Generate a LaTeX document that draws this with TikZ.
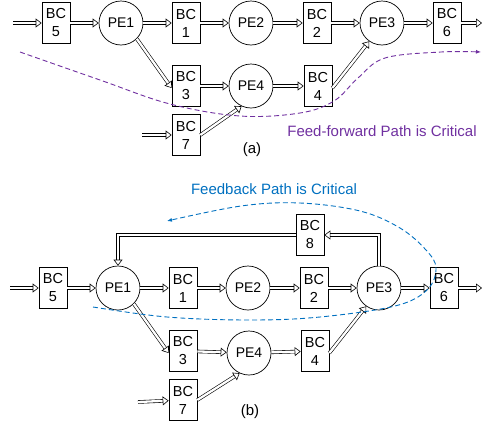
\documentclass[tikz,border=0pt]{standalone}
\usepackage{fontspec}
\setmainfont{Liberation Sans}
\usetikzlibrary{arrows.meta}
\definecolor{ffpurple}{RGB}{112,48,160}
\definecolor{fbblue}{RGB}{0,112,192}
\begin{document}
\begin{tikzpicture}[x=1pt,y=-1pt,
  bcbox/.style={draw, line width=0.7pt, minimum width=28pt, minimum height=41pt,
    inner sep=0pt, align=center, font=\fontsize{14.5}{18}\selectfont},
  pe/.style={draw, circle, line width=0.7pt, minimum size=44pt, inner sep=0pt,
    font=\fontsize{14}{16}\selectfont},
  dbl/.style={double, double distance=2.3pt, line width=0.6pt,
    -{Triangle[open, length=6pt, width=9pt, line width=0.6pt]}},
  crit/.style={dashed, dash pattern=on 5pt off 3pt, line width=0.9pt, -{Latex[length=5pt,width=4pt]}},
  lbl/.style={font=\fontsize{15}{17}\selectfont},
]
\useasboundingbox (0,0) rectangle (482,426);

% ---------------- (a) feed-forward ----------------
\node[bcbox] (a5) at (56,23) {BC\\5};
\node[pe]    (ap1) at (121,23) {PE1};
\node[bcbox] (a1) at (186,23) {BC\\1};
\node[pe]    (ap2) at (251,23) {PE2};
\node[bcbox] (a2) at (317,23) {BC\\2};
\node[pe]    (ap3) at (382,23) {PE3};
\node[bcbox] (a6) at (447,23) {BC\\6};
\node[bcbox] (a3) at (186,86) {BC\\3};
\node[pe]    (ap4) at (251,86) {PE4};
\node[bcbox] (a4) at (318,86) {BC\\4};
\node[bcbox] (a7) at (186,135) {BC\\7};
\coordinate (ain5) at (13,23);
\coordinate (aout6) at (482,23);
\coordinate (ain7) at (142,135);

\draw[dbl] (ain5) -- (a5);
\draw[dbl] (a5) -- (ap1);
\draw[dbl] (ap1) -- (a1);
\draw[dbl] (a1) -- (ap2);
\draw[dbl] (ap2) -- (a2);
\draw[dbl] (a2) -- (ap3);
\draw[dbl] (ap3) -- (a6);
\draw[dbl] (a6) -- (aout6);
\draw[dbl] (ap1.-45) -- ([yshift=-2pt]a3.west);
\draw[dbl] (a3) -- (ap4);
\draw[dbl] (ap4) -- (a4);
\draw[dbl] (ain7) -- (a7);
\draw[dbl] (a7.east) -- (ap4.-115);
\draw[dbl] ([yshift=-2pt]a4.east) -- (ap3.-125);

\draw[crit, ffpurple] plot[smooth, tension=0.6] coordinates
  {(20,52) (100,80) (170,104) (240,116) (300,113) (334,101) (358,78) (385,58) (441,52) (481,52)};
\node[lbl, text=ffpurple] (fflabel) at (382,131) {Feed-forward Path is Critical};
\node[lbl] (capa) at (252,150) {(a)};

% ---------------- (b) feedback ----------------
\node[bcbox] (b5) at (53,288) {BC\\5};
\node[pe]    (bp1) at (118,288) {PE1};
\node[bcbox] (b1) at (183,288) {BC\\1};
\node[pe]    (bp2) at (248,288) {PE2};
\node[bcbox] (b2) at (314,288) {BC\\2};
\node[pe]    (bp3) at (379,288) {PE3};
\node[bcbox] (b6) at (444,288) {BC\\6};
\node[bcbox] (b8) at (310,235) {BC\\8};
\node[bcbox] (b3) at (183,351) {BC\\3};
\node[pe]    (bp4) at (249,353) {PE4};
\node[bcbox] (b4) at (315,351) {BC\\4};
\node[bcbox] (b7) at (183,400) {BC\\7};
\coordinate (bin5) at (10,288);
\coordinate (bout6) at (482,288);
\coordinate (bin7) at (138,402);

\draw[dbl] (bin5) -- (b5);
\draw[dbl] (b5) -- (bp1);
\draw[dbl] (bp1) -- (b1);
\draw[dbl] (b1) -- (bp2);
\draw[dbl] (bp2) -- (b2);
\draw[dbl] (b2) -- (bp3);
\draw[dbl] (bp3) -- (b6);
\draw[dbl] (b6) -- (bout6);
\draw[dbl] (bp1.-45) -- ([yshift=-2pt]b3.west);
\draw[dbl] (b3) -- (bp4);
\draw[dbl] (bp4) -- (b4);
\draw[dbl] (bin7) -- (b7);
\draw[dbl] (b7.east) -- (bp4.-115);
\draw[dbl] ([yshift=-2pt]b4.east) -- (bp3.-125);
% feedback loop through BC 8
\draw[dbl] (bp3.north) |- (b8.east);
\draw[dbl] (b8.west) -| (bp1.north);

\draw[crit, fbblue] plot[smooth, tension=0.6] coordinates
  {(93,307) (167,317) (250,320) (320,317) (395,306) (427,290) (436,268) (426,250) (400,228) (360,211) (300,203) (241,206) (167,221)};
\node[lbl, text=fbblue] (fblabel) at (274,189) {Feedback Path is Critical};
\node[lbl] (capb) at (250,412) {(b)};
\end{tikzpicture}
\end{document}
